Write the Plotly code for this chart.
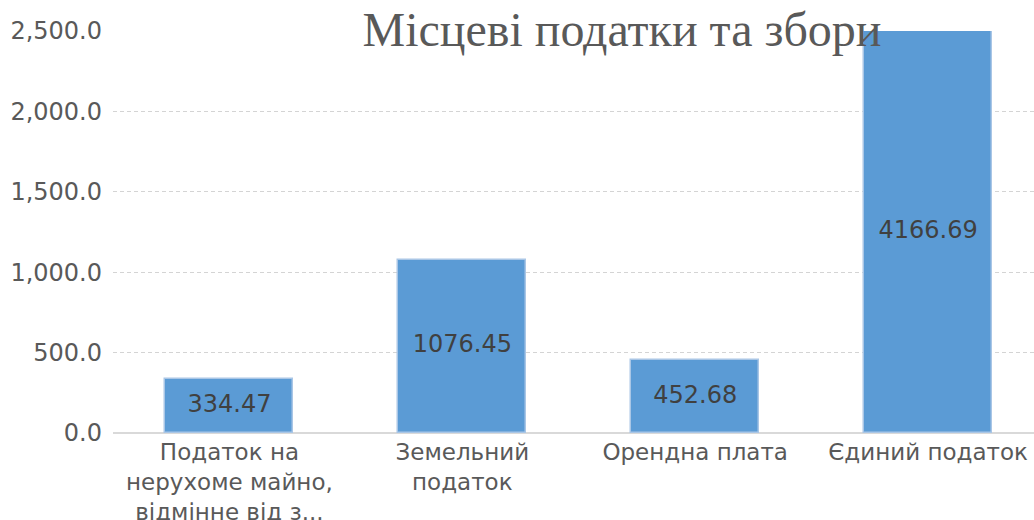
import plotly.graph_objects as go

categories = ["Податок на<br>нерухоме майно,<br>відмінне від з...", "Земельний<br>податок", "Орендна плата", "Єдиний податок"]
values = [334.47, 1076.45, 452.68, 4166.69]
y_ticks = [0, 500, 1000, 1500, 2000, 2500]
title_text = "Місцеві податки та збори"

W, H = 1034, 520
L, T, B = 112.5, 31, 87
YMAX = 2500

xs = list(range(len(categories)))

fig = go.Figure()
fig.add_trace(go.Bar(
    x=xs, y=values,
    marker=dict(color="#5b9bd5", line=dict(color="#a9c6e6", width=1.5)),
    width=0.55,
    hoverinfo="y",
))
# data labels centred in the visible part of each bar
fig.add_trace(go.Scatter(
    x=xs, y=[min(v, YMAX) / 2 for v in values],
    mode="text", text=[f"{v:.2f}" for v in values],
    textposition="middle center",
    textfont=dict(family="DejaVu Sans", size=24, color="#404040"),
    cliponaxis=False, hoverinfo="skip",
))
fig.update_layout(
    width=W, height=H,
    margin=dict(l=L, r=0, t=T, b=B, pad=0, autoexpand=False),
    paper_bgcolor="white", plot_bgcolor="white",
    showlegend=False,
    bargap=0,
    title=dict(text=title_text, x=622 / W, xanchor="center", y=1 - 29.5 / H, yanchor="middle",
               font=dict(family="Liberation Serif", size=48, color="#595959")),
    font=dict(family="DejaVu Sans", size=24, color="#595959"),
)
fig.update_xaxes(
    range=[-0.5, -0.5 + (W - L) / 233.0],
    tickvals=xs, ticktext=categories,
    showgrid=False, ticks="", showline=False, zeroline=False,
    automargin=False, ticklabelstandoff=3,
    tickfont=dict(family="DejaVu Sans", size=23, color="#595959"),
)
fig.update_yaxes(
    range=[0, YMAX], tickvals=y_ticks, tickformat=",.1f",
    showgrid=True, gridcolor="#d4d4d4", griddash="4px,3px", gridwidth=1,
    zeroline=True, zerolinecolor="#d9d9d9", zerolinewidth=2,
    ticks="", ticklabelstandoff=10, automargin=False,
    tickfont=dict(family="DejaVu Sans", size=24, color="#595959"),
)
fig.write_html("out.html", config={"displayModeBar": False},
               post_script="document.body.style.margin='0';document.body.style.overflow='hidden';")
